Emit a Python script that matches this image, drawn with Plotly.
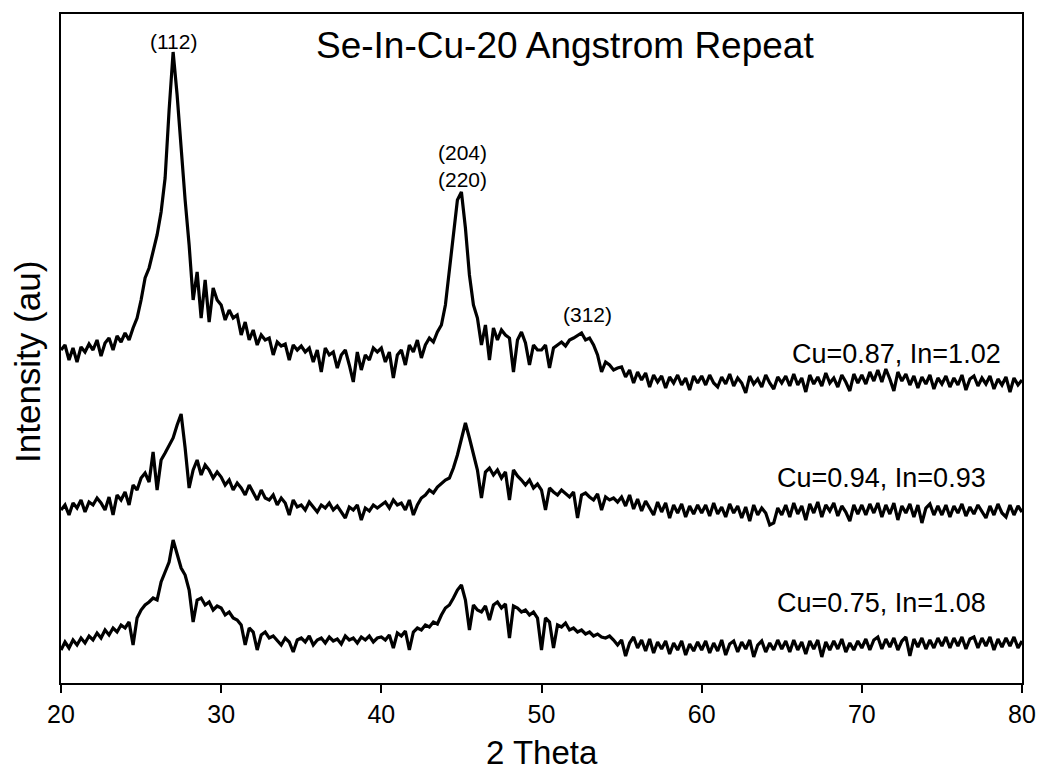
import plotly.graph_objects as go

# 2-theta grid, 0.25 degree steps from 20 to 80
two_theta = [20 + 0.25 * i for i in range(241)]

# Stacked intensities (arbitrary units)
cu087_in102 = [
    333, 338, 323, 335, 321, 336, 331, 339, 333, 343, 327, 340, 345, 333, 347, 341, 350, 343, 355, 365,
    383, 405, 415, 433, 448, 471, 505, 573, 631, 588, 533, 483, 438, 383, 411, 365, 403, 361, 395, 383,
    378, 363, 373, 365, 368, 348, 361, 343, 353, 338, 348, 343, 345, 328, 341, 337, 339, 323, 338, 333,
    337, 331, 335, 321, 333, 311, 335, 328, 331, 315, 328, 333, 318, 301, 331, 313, 328, 323, 335, 331,
    335, 321, 331, 305, 328, 333, 318, 338, 331, 343, 325, 338, 345, 341, 351, 358, 378, 411, 448, 483,
    491, 455, 408, 378, 365, 338, 358, 323, 355, 343, 353, 348, 345, 311, 343, 351, 340, 318, 338, 333,
    333, 338, 315, 335, 338, 341, 337, 343, 345, 348, 350, 343, 345, 338, 328, 311, 321, 318, 313, 315,
    316, 306, 313, 300, 311, 303, 310, 296, 308, 301, 307, 295, 306, 300, 308, 298, 305, 293, 307, 300,
    307, 298, 308, 300, 296, 306, 299, 309, 297, 305, 300, 290, 307, 299, 304, 296, 308, 300, 294, 306,
    300, 307, 297, 309, 298, 305, 291, 308, 299, 306, 297, 310, 300, 305, 296, 308, 301, 292, 309, 300,
    308, 299, 311, 302, 313, 301, 314, 304, 292, 311, 302, 309, 298, 307, 295, 306, 299, 308, 294, 305,
    299, 307, 296, 305, 298, 308, 293, 304, 307, 297, 305, 299, 307, 294, 304, 298, 306, 291, 305, 298, 303,
]

cu094_in093 = [
    173, 178, 168, 180, 175, 183, 171, 181, 178, 185, 180, 173, 186, 168, 188, 183, 191, 178, 198, 193,
    205, 210, 201, 231, 193, 223, 230, 238, 245, 258, 269, 235, 195, 213, 223, 208, 218, 213, 205, 211,
    206, 198, 203, 193, 200, 195, 188, 198, 190, 183, 193, 185, 183, 188, 178, 185, 180, 168, 183, 176,
    178, 173, 181, 176, 171, 178, 175, 180, 173, 177, 171, 165, 176, 173, 178, 163, 175, 172, 178, 175,
    178, 181, 175, 183, 178, 180, 173, 183, 168, 178, 185, 188, 193, 190, 196, 200, 203, 205, 215, 228,
    243, 260, 245, 228, 213, 185, 211, 215, 208, 213, 205, 211, 183, 213, 207, 203, 198, 203, 195, 199,
    193, 173, 195, 191, 188, 193, 190, 186, 191, 165, 188, 190, 186, 183, 189, 173, 186, 183, 185, 181,
    186, 177, 188, 174, 184, 172, 182, 175, 168, 181, 171, 180, 165, 178, 170, 179, 166, 177, 169, 178,
    170, 178, 167, 180, 169, 176, 166, 179, 170, 177, 165, 176, 162, 178, 168, 175, 170, 158, 160, 175,
    168, 178, 166, 180, 169, 177, 163, 179, 170, 181, 166, 178, 172, 180, 167, 177, 171, 162, 178, 169,
    178, 168, 179, 170, 180, 166, 178, 169, 180, 163, 177, 170, 179, 166, 178, 160, 175, 179, 168, 177,
    168, 178, 166, 177, 170, 179, 167, 176, 169, 178, 171, 165, 177, 168, 179, 170, 166, 178, 168, 177, 171,
]

cu075_in108 = [
    33, 41, 35, 43, 38, 45, 40, 47, 43, 50, 45, 53, 48, 55, 51, 58, 55, 61, 38, 65,
    73, 78, 81, 85, 83, 101, 111, 121, 143, 128, 115, 108, 93, 61, 83, 85, 78, 81, 73, 77,
    75, 68, 71, 65, 63, 58, 38, 55, 51, 33, 48, 51, 45, 47, 43, 38, 45, 41, 31, 43,
    45, 41, 47, 38, 43, 45, 40, 46, 42, 44, 39, 47, 43, 45, 40, 46, 43, 47, 41, 45,
    46, 43, 48, 35, 50, 47, 52, 33, 51, 55, 53, 58, 56, 61, 59, 68, 75, 78, 85, 93,
    98, 83, 53, 78, 73, 71, 77, 63, 78, 81, 75, 79, 45, 77, 75, 71, 73, 68, 71, 65,
    33, 65, 61, 35, 58, 56, 60, 53, 55, 51, 53, 49, 51, 47, 49, 46, 45, 47, 43, 38,
    43, 27, 40, 46, 35, 43, 32, 44, 30, 41, 34, 42, 29, 40, 33, 42, 28, 39, 32, 41,
    33, 42, 30, 40, 32, 43, 28, 39, 42, 31, 41, 34, 43, 26, 38, 42, 31, 40, 33, 43,
    34, 42, 31, 43, 33, 41, 29, 42, 34, 43, 26, 41, 33, 42, 34, 44, 31, 40, 33, 42,
    35, 44, 33, 43, 46, 34, 44, 36, 45, 33, 42, 46, 27, 44, 36, 45, 34, 43, 35, 45,
    37, 46, 35, 45, 37, 46, 34, 44, 46, 35, 45, 37, 46, 33, 44, 36, 45, 37, 46, 35, 42,
]

series_names = ["Cu=0.87, In=1.02", "Cu=0.94, In=0.93", "Cu=0.75, In=1.08"]
series_values = [cu087_in102, cu094_in093, cu075_in108]
series_label_x = [72.15, 71.2, 71.2]
series_label_y = [329, 205, 80]

peak_labels = ["(112)", "(204)<br>(220)", "(312)"]
peak_x = [27.0, 45.05, 52.9]
peak_y = [642, 517, 369]

x_ticks = [20, 30, 40, 50, 60, 70, 80]

FONT = "Liberation Sans, Arial, Helvetica, sans-serif"
PLOT_L, PLOT_R, PLOT_T, PLOT_B = 61, 1022, 14, 683
PW, PH = PLOT_R - PLOT_L, PLOT_B - PLOT_T


def px_to_paper(x_px, y_px):
    return (x_px - PLOT_L) / PW, (PLOT_B - y_px) / PH


fig = go.Figure()
for name, vals in zip(series_names, series_values):
    fig.add_trace(go.Scatter(x=two_theta, y=vals, mode="lines", name=name,
                             line=dict(color="black", width=3.2), showlegend=False))

for name, lx, ly in zip(series_names, series_label_x, series_label_y):
    fig.add_annotation(x=lx, y=ly, text=name, showarrow=False, xanchor="center", yanchor="middle",
                       font=dict(family=FONT, size=27, color="black"))

for lab, px, py in zip(peak_labels, peak_x, peak_y):
    fig.add_annotation(x=px, y=py, text=lab, showarrow=False, xanchor="center", yanchor="middle",
                       font=dict(family=FONT, size=21, color="black"))

tx, ty = px_to_paper(565, 46)
fig.add_annotation(xref="paper", yref="paper", x=tx, y=ty, xanchor="center", yanchor="middle",
                   text="Se-In-Cu-20 Angstrom Repeat", showarrow=False,
                   font=dict(family=FONT, size=37, color="black"))

# axis titles placed as annotations to match the reference position
xt, yt = px_to_paper(542, 752)
fig.add_annotation(xref="paper", yref="paper", x=xt, y=yt, xanchor="center", yanchor="middle",
                   text="2 Theta", showarrow=False,
                   font=dict(family=FONT, size=33, color="black"))
xi, yi = px_to_paper(28, 362)
fig.add_annotation(xref="paper", yref="paper", x=xi, y=yi, xanchor="center", yanchor="middle",
                   text="Intensity (au)", showarrow=False, textangle=-90,
                   font=dict(family=FONT, size=35, color="black"))

fig.update_layout(
    width=1040, height=772,
    margin=dict(l=PLOT_L, r=1040 - PLOT_R, t=PLOT_T, b=772 - PLOT_B, autoexpand=False),
    paper_bgcolor="white", plot_bgcolor="white",
    font=dict(family=FONT, color="black"),
)
fig.update_xaxes(range=[20, 80], tickvals=x_ticks, ticks="outside", ticklen=8, tickwidth=2,
                 tickcolor="black", showline=True, linecolor="black", linewidth=2, mirror=True,
                 showgrid=False, zeroline=False, automargin=False,
                 tickfont=dict(family=FONT, size=25, color="black"))
fig.update_yaxes(range=[0, 669], showticklabels=False, ticks="", showline=True, linecolor="black",
                 linewidth=2, mirror=True, showgrid=False, zeroline=False, automargin=False)

fig.write_html("out.html")
